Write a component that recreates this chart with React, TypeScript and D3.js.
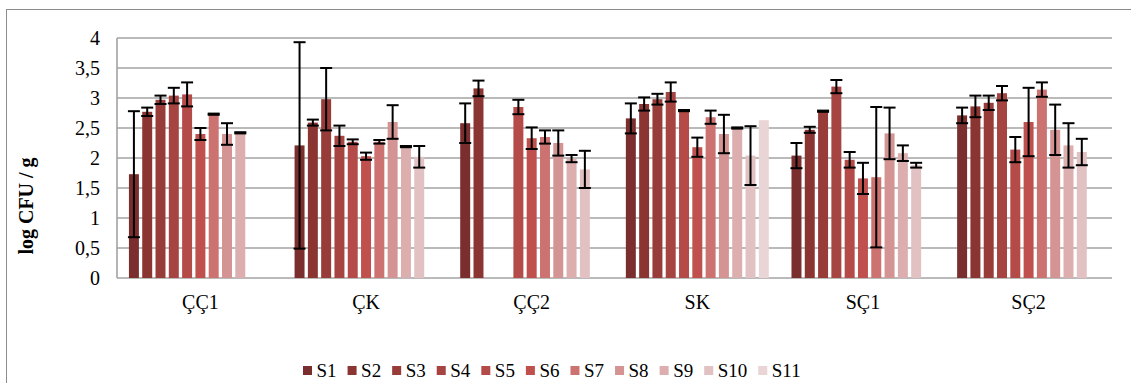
import React, { useRef, useEffect } from 'react';
import * as d3 from 'd3';

const categories = ['ÇÇ1', 'ÇK', 'ÇÇ2', 'SK', 'SÇ1', 'SÇ2'];
const seriesNames = ['S1', 'S2', 'S3', 'S4', 'S5', 'S6', 'S7', 'S8', 'S9', 'S10', 'S11'];
const colors = ['#7a2e2e', '#8b3533', '#983c3a', '#a64441', '#b54b48', '#c0504d', '#cc7270', '#d49494', '#dcaeae', '#e2c1c2', '#e9d5d5'];
const yTicks = [0, 0.5, 1, 1.5, 2, 2.5, 3, 3.5, 4];

// mean per category, one array per series (null = not measured)
const s1 = [1.73, 2.21, 2.58, 2.66, 2.04, 2.71];
const s2 = [2.77, 2.59, 3.16, 2.9, 2.47, 2.86];
const s3 = [2.97, 2.98, null, 2.98, 2.78, 2.92];
const s4 = [3.04, 2.37, null, 3.1, 3.19, 3.08];
const s5 = [3.06, 2.27, 2.85, 2.79, 1.97, 2.14];
const s6 = [2.4, 2.03, 2.33, 2.18, 1.66, 2.6];
const s7 = [2.73, 2.27, 2.35, 2.68, 1.68, 3.14];
const s8 = [2.4, 2.6, 2.25, 2.4, 2.41, 2.47];
const s9 = [2.42, 2.19, 1.99, 2.5, 2.08, 2.21];
const s10 = [null, 2.02, 1.81, 2.04, 1.88, 2.1];
const s11 = [null, null, null, 2.63, null, null];

// standard deviation per category
const e1 = [1.05, 1.72, 0.33, 0.25, 0.21, 0.13];
const e2 = [0.07, 0.05, 0.13, 0.11, 0.05, 0.18];
const e3 = [0.07, 0.52, null, 0.09, 0.01, 0.12];
const e4 = [0.13, 0.17, null, 0.16, 0.11, 0.12];
const e5 = [0.2, 0.04, 0.12, 0.01, 0.13, 0.21];
const e6 = [0.1, 0.06, 0.18, 0.16, 0.26, 0.57];
const e7 = [0.01, 0.03, 0.11, 0.11, 1.17, 0.12];
const e8 = [0.18, 0.28, 0.21, 0.32, 0.43, 0.42];
const e9 = [0.01, 0.01, 0.06, 0.01, 0.13, 0.37];
const e10 = [null, 0.18, 0.31, 0.49, 0.04, 0.22];
const e11 = [null, null, null, null, null, null];

const values = [s1, s2, s3, s4, s5, s6, s7, s8, s9, s10, s11];
const errors = [e1, e2, e3, e4, e5, e6, e7, e8, e9, e10, e11];

const App = () => {
  const ref = useRef(null);

  useEffect(() => {
    const svg = d3.select(ref.current);
    svg.selectAll('*').remove();

    const left = 117, right = 1112, top = 38, bottom = 278;
    const font = '"Liberation Serif", "Times New Roman", serif';

    const x0 = d3.scaleBand().domain(categories).range([left, right])
      .paddingInner(0.137).paddingOuter(0.072);
    const x1 = d3.scaleBand().domain(seriesNames).range([0, x0.bandwidth()])
      .paddingInner(0.25).paddingOuter(0);
    const y = d3.scaleLinear().domain([0, 4]).range([bottom, top]);

    // outer chart border
    svg.append('rect')
      .attr('x', 6.5).attr('y', 9.5)
      .attr('width', 1140).attr('height', 400)
      .attr('fill', 'none').attr('stroke', '#8c8c8c');

    // gridlines
    svg.append('g').selectAll('line')
      .data(yTicks.filter(d => d > 0))
      .join('line')
      .attr('x1', left).attr('x2', right)
      .attr('y1', d => y(d)).attr('y2', d => y(d))
      .attr('stroke', '#a3a3a3').attr('stroke-width', 1.6);

    // axis lines
    svg.append('line').attr('x1', left).attr('x2', left).attr('y1', top).attr('y2', bottom)
      .attr('stroke', '#a3a3a3').attr('stroke-width', 1.6);
    svg.append('line').attr('x1', left).attr('x2', right).attr('y1', bottom).attr('y2', bottom)
      .attr('stroke', '#a3a3a3').attr('stroke-width', 1.6);

    // y tick labels
    svg.append('g').selectAll('text')
      .data(yTicks)
      .join('text')
      .attr('x', 100).attr('y', d => y(d))
      .attr('dy', '0.34em')
      .attr('text-anchor', 'end')
      .style('font-family', font).style('font-size', '20px')
      .text(d => String(d).replace('.', ','));

    // y title
    svg.append('text')
      .attr('transform', 'translate(33,206) rotate(-90)')
      .attr('text-anchor', 'middle')
      .style('font-family', font).style('font-size', '20px').style('font-weight', 'bold')
      .text('log CFU / g');

    // category labels
    svg.append('g').selectAll('text')
      .data(categories)
      .join('text')
      .attr('x', d => x0(d) + x0.bandwidth() / 2)
      .attr('y', 309)
      .attr('text-anchor', 'middle')
      .style('font-family', font).style('font-size', '20px')
      .text(d => d);

    // bars
    const points = [];
    seriesNames.forEach((s, si) => {
      categories.forEach((c, ci) => {
        const v = values[si][ci];
        if (v == null) return;
        points.push({ s, si, c, v, e: errors[si][ci] });
      });
    });

    svg.append('g').selectAll('rect')
      .data(points)
      .join('rect')
      .attr('x', d => x0(d.c) + x1(d.s))
      .attr('y', d => y(d.v))
      .attr('width', x1.bandwidth())
      .attr('height', d => y(0) - y(d.v))
      .attr('fill', d => colors[d.si]);

    // error bars
    const err = svg.append('g').selectAll('g')
      .data(points.filter(d => d.e != null))
      .join('g')
      .attr('stroke', '#000').attr('stroke-width', 2);
    const cx = d => x0(d.c) + x1(d.s) + x1.bandwidth() / 2;
    const cap = 6;
    err.append('line')
      .attr('x1', cx).attr('x2', cx)
      .attr('y1', d => y(d.v + d.e)).attr('y2', d => y(d.v - d.e));
    err.append('line')
      .attr('x1', d => cx(d) - cap).attr('x2', d => cx(d) + cap)
      .attr('y1', d => y(d.v + d.e)).attr('y2', d => y(d.v + d.e));
    err.append('line')
      .attr('x1', d => cx(d) - cap).attr('x2', d => cx(d) + cap)
      .attr('y1', d => y(d.v - d.e)).attr('y2', d => y(d.v - d.e));

    // legend
    const legend = svg.append('g');
    let lx = 303;
    seriesNames.forEach((s, i) => {
      legend.append('rect')
        .attr('x', lx).attr('y', 366)
        .attr('width', 9).attr('height', 9)
        .attr('fill', colors[i]);
      const t = legend.append('text')
        .attr('x', lx + 13.5).attr('y', 377)
        .style('font-family', font).style('font-size', '19px')
        .text(s);
      const w = t.node().getComputedTextLength();
      lx += 13.5 + w + 11;
    });
  }, []);

  return (
    <svg ref={ref} width={1131} height={383}
      style={{ position: 'absolute', left: 0, top: 0, background: '#fff' }} />
  );
};

export default App;
